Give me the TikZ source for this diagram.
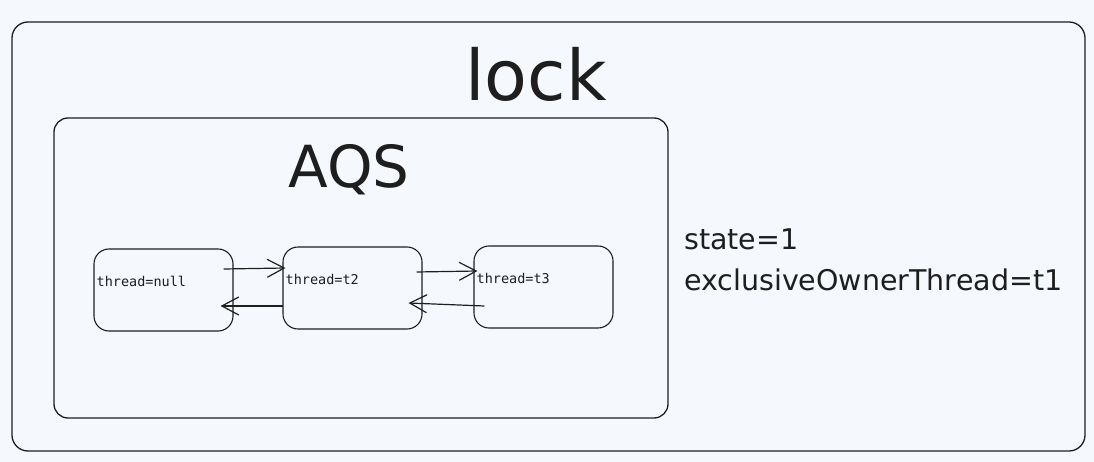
\documentclass[tikz,border=0pt]{standalone}
\usepackage{fontspec}
\setmainfont{DejaVu Sans}
\setmonofont{DejaVu Sans Mono}
\usetikzlibrary{arrows.meta,positioning}
\definecolor{paper}{HTML}{F5F9FD}
\definecolor{ink}{HTML}{1E1E1E}

\begin{document}
\begin{tikzpicture}[x=1pt,y=-1pt,
  frame/.style={draw=ink,line width=1.3pt,rounded corners=16pt},
  threadbox/.style={draw=ink,line width=1.1pt,rounded corners=15pt,minimum width=139pt,minimum height=82pt},
  threadtext/.style={font=\ttfamily\fontsize{13.5}{15}\selectfont,text=ink,anchor=base west,inner sep=0pt},
  link/.style={draw=ink,line width=1.2pt,-{Straight Barb[length=17pt,width=18pt,line width=1.2pt]}}]
  \fill[paper] (0,0) rectangle (1094,462);
  \useasboundingbox (0,0) rectangle (1094,462);
  % lock and AQS frames
  \draw[frame] (12,22) rectangle (1085,451);
  \draw[frame,rounded corners=14pt] (54,118) rectangle (668,418);
  \node[anchor=base,text=ink,font=\fontsize{70}{74}\selectfont] (lock) at (536,101) {lock};
  \node[anchor=base,text=ink,font=\fontsize{58}{62}\selectfont] (aqs) at (349,188) {AQS};
  % state of the lock
  \node[anchor=base west,inner sep=0pt,text=ink,font=\fontsize{28.5}{32}\selectfont] (state) at (684,250) {state=1};
  \node[anchor=base west,inner sep=0pt,text=ink,font=\fontsize{28.5}{32}\selectfont] (owner) at (684,290) {exclusiveOwnerThread=t1};
  % queue of threads
  \node[threadbox] (tnull) at (163.5,290) {};
  \node[threadbox] (ttwo) at (352.5,288) {};
  \node[threadbox] (tthree) at (543.5,287) {};
  \node[threadtext] at ([xshift=3pt,yshift=4pt]tnull.west) {thread=null};
  \node[threadtext] at ([xshift=3pt,yshift=4pt]ttwo.west) {thread=t2};
  \node[threadtext] at ([xshift=3pt,yshift=4pt]tthree.west) {thread=t3};
  \draw[link] ([xshift=-10pt,yshift=21pt]tnull.east) -- ([xshift=3pt,yshift=20pt]ttwo.west);
  \draw[link] ([xshift=1pt,yshift=-18pt]ttwo.west) -- ([xshift=-13pt,yshift=-16pt]tnull.east);
  \draw[link] ([xshift=-6pt,yshift=16pt]ttwo.east) -- ([xshift=4pt,yshift=16pt]tthree.west);
  \draw[link] ([xshift=11pt,yshift=-19pt]tthree.west) -- ([xshift=-14pt,yshift=-15pt]ttwo.east);
\end{tikzpicture}
\end{document}
